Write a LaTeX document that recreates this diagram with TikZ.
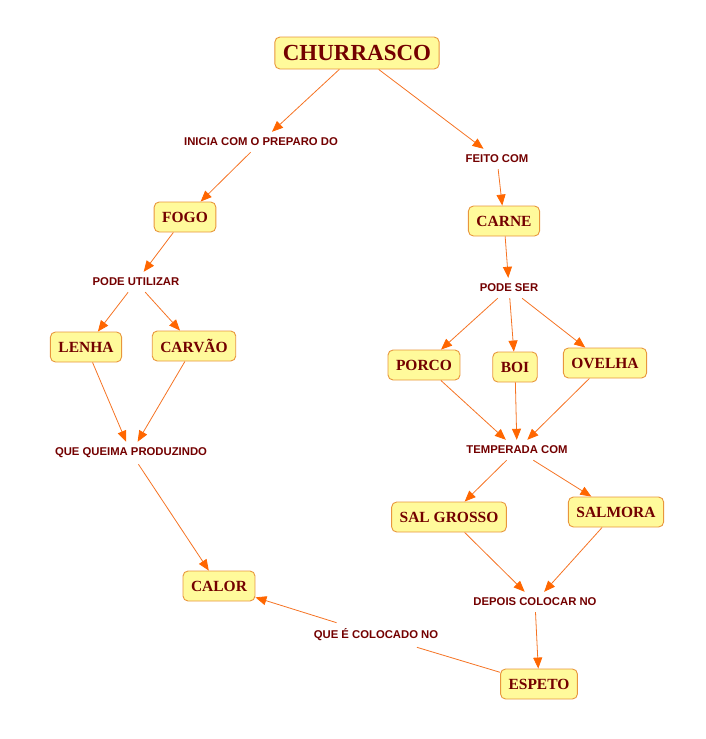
\documentclass[tikz,border=0pt]{standalone}
\usepackage{fontspec}
\setmainfont{Liberation Serif}
\newfontfamily\linkfont{Liberation Sans}
\usepackage{tikz}
\usetikzlibrary{
    arrows.meta
}

\definecolor{txtred}{RGB}{115,0,0}
\definecolor{boxfill}{RGB}{255,250,155}
\definecolor{boxline}{RGB}{232,150,60}
\definecolor{linkline}{RGB}{245,115,35}
\definecolor{tipfill}{RGB}{255,102,0}

\begin{document}
\begin{tikzpicture}[x=1pt,y=-1pt,
    concept/.style={draw=boxline, fill=boxfill, rounded corners=5pt,
        line width=0.9pt, text=txtred, font=\fontsize{15.5}{16}\selectfont\bfseries,
        inner xsep=8pt, minimum height=30pt},
    phrase/.style={text=txtred, font=\linkfont\fontsize{11.3}{12}\selectfont\bfseries,
        inner xsep=2pt, inner ysep=6pt},
    arrow/.style={draw=linkline, line width=0.8pt,
        -{Triangle[length=11pt,width=9pt,color=tipfill]}},
    plain/.style={draw=linkline, line width=0.8pt}
]

\useasboundingbox (0,0) rectangle (706,739);

% concepts
\node[concept, minimum height=32pt, font=\fontsize{23}{24}\selectfont\bfseries]
    (churrasco) at (357,53) {CHURRASCO};
\node[concept] (fogo)    at (185,217) {FOGO};
\node[concept] (carne)   at (504,221) {CARNE};
\node[concept] (lenha)   at (86,347)  {LENHA};
\node[concept] (carvao)  at (194,346) {CARVÃO};
\node[concept] (porco)   at (424,365) {PORCO};
\node[concept] (boi)     at (515,367) {BOI};
\node[concept] (ovelha)  at (605,363) {OVELHA};
\node[concept] (sal)     at (449,517) {SAL GROSSO};
\node[concept] (salmora) at (616,512) {SALMORA};
\node[concept] (calor)   at (219,586) {CALOR};
\node[concept] (espeto)  at (539,684) {ESPETO};

% linking phrases
\node[phrase] (inicia)    at (261,142) {INICIA COM O PREPARO DO};
\node[phrase] (feito)     at (497,159) {FEITO COM};
\node[phrase] (utilizar)  at (136,282) {PODE UTILIZAR};
\node[phrase] (podeser)   at (509,288) {PODE SER};
\node[phrase] (queima)    at (131,453) {QUE QUEIMA PRODUZINDO};
\node[phrase] (temperada) at (517,450) {TEMPERADA COM};
\node[phrase] (depois)    at (535,602) {DEPOIS COLOCAR NO};
\node[phrase] (colocado)  at (376,635) {QUE É COLOCADO NO};

% connectors
\foreach \a/\b in {churrasco/inicia, inicia/fogo, churrasco/feito, feito/carne,
    fogo/utilizar, utilizar/lenha, utilizar/carvao, lenha/queima, carvao/queima,
    queima/calor, carne/podeser, podeser/porco, podeser/boi, podeser/ovelha,
    porco/temperada, boi/temperada, ovelha/temperada, temperada/sal,
    temperada/salmora, sal/depois, salmora/depois, depois/espeto, colocado/calor}{
    \draw[arrow] (\a) -- (\b);
}
\draw[plain] (espeto) -- (colocado);

\end{tikzpicture}
\end{document}
